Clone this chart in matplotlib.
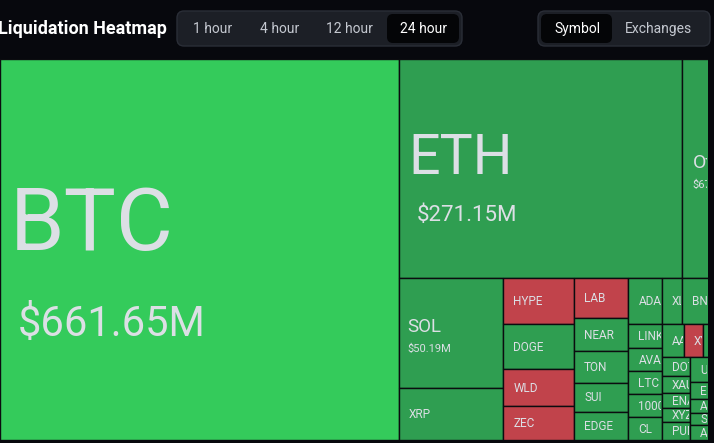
import matplotlib
matplotlib.use("Agg")
import matplotlib.pyplot as plt
from matplotlib.patches import Rectangle, FancyBboxPatch
from matplotlib.transforms import Bbox

# ---------------- data ----------------
symbols = ["BTC", "ETH", "Others", "SOL", "XRP",
           "HYPE", "DOGE", "WLD", "ZEC",
           "LAB", "NEAR", "TON", "SUI", "EDGE",
           "ADA", "LINK", "AVAX", "LTC", "1000PEPE", "CL",
           "XLM", "BNB", "TRX", "BCH",
           "AAVE", "XYO", "TAO",
           "DOT", "XAUT", "ENA", "XYZ", "PUMP",
           "UNI", "ESPORTS", "AI16Z", "SHIB", "AIXBT",
           "ASTER", "FARTCOIN", "PENGU", "APT", "ARB"]
amounts = [661.65, 271.15, 67.42, 50.19, 23.65,
           14.17, 13.86, 11.40, 10.38,
           9.46, 7.74, 7.50, 6.86, 6.70,
           6.69, 3.45, 3.36, 3.34, 3.33, 3.35,
           4.13, 5.75, 4.50, 3.90,
           3.21, 2.69, 1.05,
           2.31, 2.13, 1.78, 1.80, 2.18,
           2.12, 1.53, 1.17, 1.07, 1.31,
           6.10, 5.40, 4.20, 3.50, 2.45]
tone = ["strong", "up", "up", "up", "up",
        "down", "up", "down", "down",
        "down", "up", "up", "up", "up",
        "up", "up", "up", "up", "up", "up",
        "up", "up", "up", "up",
        "up", "down", "up",
        "up", "up", "up", "up", "up",
        "up", "up", "up", "up", "up",
        "up", "up", "up", "up", "up"]
periods = ["1 hour", "4 hour", "12 hour", "24 hour"]
active_period = "24 hour"
views = ["Symbol", "Exchanges"]
active_view = "Symbol"
title = "Liquidation Heatmap"

# treemap partition ('h' = side by side, 'v' = stacked)
tree = ("h", ["BTC",
        ("v", [("h", ["ETH", "Others"]),
               ("h", [("v", ["SOL", "XRP"]),
                      ("v", ["HYPE", "DOGE", "WLD", "ZEC"]),
                      ("v", ["LAB", "NEAR", "TON", "SUI", "EDGE"]),
                      ("v", ["ADA", "LINK", "AVAX", "LTC", "1000PEPE", "CL"]),
                      ("v", [("h", ["XLM", "BNB", "TRX", "BCH"]),
                             ("h", [("v", [("h", ["AAVE", "XYO", "TAO"]),
                                           ("h", [("v", ["DOT", "XAUT", "ENA", "XYZ", "PUMP"]),
                                                  ("v", ["UNI", "ESPORTS", "AI16Z", "SHIB", "AIXBT"])])]),
                                    ("v", ["ASTER", "FARTCOIN", "PENGU", "APT", "ARB"])])])])])])

value_of = dict(zip(symbols, amounts))
tone_of = dict(zip(symbols, tone))

# ---------------- style ----------------
BG = "#07080d"
TONE_COL = {"strong": "#34cb5b", "up": "#2f9e51", "down": "#c1434b"}
TXT = "#dcdfe5"
# name size, value size, name baseline offset from tile centre, gap to value baseline, name pad, value pad
LABEL_STYLE = {"BTC": (63, 30, 0, 86, 10, 18),
               "ETH": (40, 16, 5, 47, 10, 18),
               "Others": (14, 8, -1, 20, 10, 10),
               "SOL": (13.5, 8, -1.5, 20.5, 9, 9)}
SMALL = (8.5, None, 4.2, 0, 10, 10)

W_PX, H_PX = 714, 443
fig = plt.figure(figsize=(W_PX / 100, H_PX / 100), dpi=100)
fig.patch.set_facecolor(BG)
ax = fig.add_axes([0, 0, 1, 1])
ax.set_xlim(0, W_PX)
ax.set_ylim(H_PX, 0)
ax.axis("off")
ax.set_facecolor(BG)

TILE_FONT = ["Roboto", "DejaVu Sans"]
HEAD_FONT = ["Liberation Sans Narrow", "Roboto", "DejaVu Sans"]


def node_value(n):
    if isinstance(n, str):
        return value_of[n]
    return sum(node_value(k) for k in n[1])


def layout(n, x0, y0, x1, y1, out):
    if isinstance(n, str):
        out.append((n, x0, y0, x1, y1))
        return
    split, kids = n
    tot = node_value(n)
    pos = x0 if split == "h" else y0
    for k in kids:
        frac = node_value(k) / tot
        if split == "h":
            w = (x1 - x0) * frac
            layout(k, pos, y0, pos + w, y1, out)
            pos += w
        else:
            h = (y1 - y0) * frac
            layout(k, x0, pos, x1, pos + h, out)
            pos += h


# container (extends past the visible right edge like the cropped screenshot)
CX0, CY0, CX1, CY1 = 0, 59, 753, 440
VIS = (0, 59, 708, 440)

tiles = []
layout(tree, CX0, CY0, CX1, CY1, tiles)


def disp_bbox(x0, y0, x1, y1):
    a = ax.transData.transform([[x0, y0], [x1, y1]])
    return Bbox.from_extents(min(a[0][0], a[1][0]), min(a[0][1], a[1][1]),
                             max(a[0][0], a[1][0]), max(a[0][1], a[1][1]))


vis_bb = disp_bbox(*VIS)

for name, x0, y0, x1, y1 in tiles:
    r = Rectangle((x0, y0), x1 - x0, y1 - y0, facecolor=TONE_COL[tone_of[name]],
                  edgecolor="#0b0c0f", linewidth=1.0, zorder=2)
    ax.add_patch(r)
    r.set_clip_box(vis_bb)
    cx0, cy0 = max(x0, VIS[0]), max(y0, VIS[1])
    cx1, cy1 = min(x1, VIS[2]), min(y1, VIS[3])
    if cx1 - cx0 < 3 or cy1 - cy0 < 3:
        continue
    clip = disp_bbox(cx0 + 1, cy0 + 1, cx1 - 1, cy1 - 1)
    ns, vs, dy, gap, npad, vpad = LABEL_STYLE.get(name, SMALL)
    yc = (y0 + y1) / 2
    t = ax.text(x0 + npad, yc + dy, name, fontsize=ns, color=TXT, family=TILE_FONT,
                ha="left", va="baseline", zorder=3)
    t.set_clip_box(clip)
    t.set_clip_on(True)
    if vs:
        v = ax.text(x0 + vpad, yc + dy + gap, f"${value_of[name]:.2f}M", fontsize=vs,
                    color=TXT, family=TILE_FONT, ha="left", va="baseline", zorder=3)
        v.set_clip_box(clip)
        v.set_clip_on(True)

# dark margin where the screenshot crops the map
ax.add_patch(Rectangle((VIS[2], VIS[1]), W_PX - VIS[2], VIS[3] - VIS[1],
                       facecolor=BG, edgecolor="none", zorder=4))

# ---------------- header ----------------
ax.text(-2, 29, title, fontsize=13, fontweight="bold", color="white",
        family=HEAD_FONT, ha="left", va="center", zorder=5)


def group(x0, x1, items, centers, active, sel):
    g = FancyBboxPatch((x0, 11), x1 - x0, 35, boxstyle="round,pad=0,rounding_size=7",
                       facecolor="#1c1f26", edgecolor="#2a2e37", linewidth=1, zorder=4)
    ax.add_patch(g)
    s = FancyBboxPatch((sel[0], 14), sel[1] - sel[0], 29, boxstyle="round,pad=0,rounding_size=6",
                       facecolor="#040507", edgecolor="none", zorder=5)
    ax.add_patch(s)
    for it, c in zip(items, centers):
        ax.text(c, 29, it, fontsize=10, color="white" if it == active else "#c4c8d0",
                family=HEAD_FONT, ha="center", va="center", zorder=6)


group(177, 462, periods, [213, 280, 349, 423], active_period, (387, 459))
group(538, 710, views, [577, 659], active_view, (541, 612))

fig.savefig("out.png", dpi=100, facecolor=BG)
